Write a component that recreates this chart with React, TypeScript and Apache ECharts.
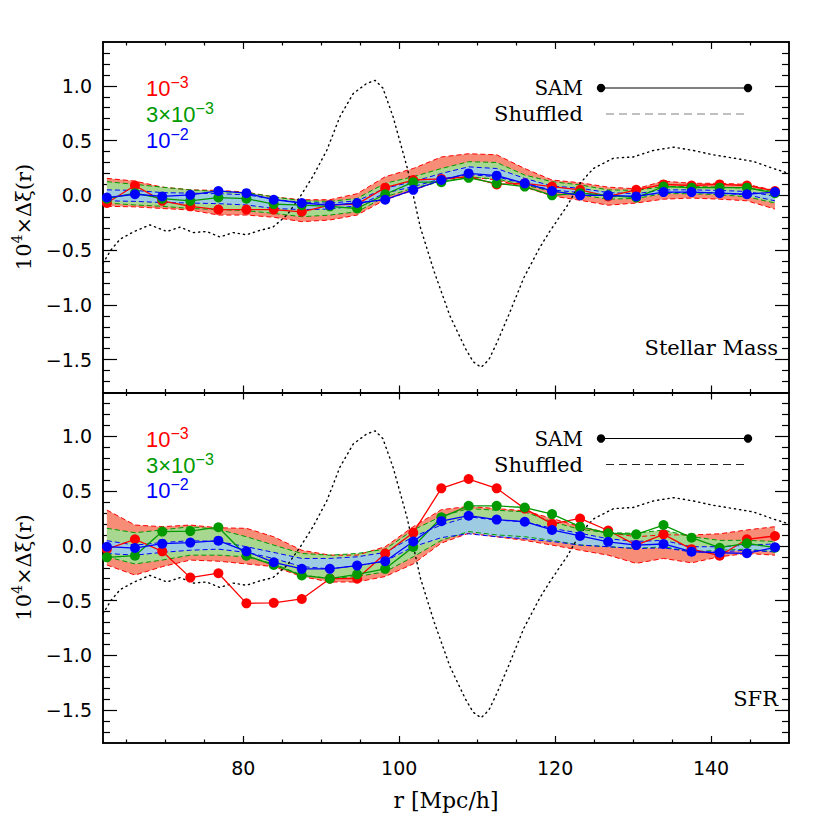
import React, { useEffect, useRef } from 'react';
import * as echarts from 'echarts';

// ---------- data ----------
const R_VALUES = [62.5, 66.1, 69.6, 73.2, 76.8, 80.4, 83.9, 87.5, 91.1, 94.6, 98.2, 101.8, 105.4, 108.9, 112.5, 116.1, 119.6, 123.2, 126.8, 130.4, 133.9, 137.5, 141.1, 144.6, 148.2];

// Stellar Mass panel: SAM points
const SM_RED = [-0.07, 0.09, -0.05, -0.10, -0.13, -0.13, -0.13, -0.15, -0.09, -0.08, 0.07, 0.14, 0.15, 0.17, 0.10, 0.11, 0.08, 0.05, -0.01, 0.05, 0.10, 0.09, 0.10, 0.09, 0.04];
const SM_GREEN = [-0.03, 0.02, -0.03, -0.05, -0.02, -0.03, -0.08, -0.09, -0.10, -0.12, 0.01, 0.12, 0.12, 0.16, 0.11, 0.08, 0.0, 0.02, 0.0, -0.02, 0.08, 0.07, 0.07, 0.07, 0.02];
const SM_BLUE = [-0.02, 0.01, -0.01, 0.005, 0.04, 0.02, -0.04, -0.07, -0.09, -0.07, -0.04, 0.05, 0.14, 0.20, 0.18, 0.11, 0.04, 0.0, 0.0, -0.01, 0.03, 0.03, 0.02, 0.01, 0.03];
// Stellar Mass panel: shuffled bands
const SM_RED_HI = [0.155, 0.13, 0.075, 0.05, 0.045, 0.03, -0.015, -0.04, -0.04, 0.015, 0.17, 0.245, 0.35, 0.38, 0.37, 0.245, 0.14, 0.115, 0.075, 0.06, 0.13, 0.11, 0.11, 0.10, 0.045];
const SM_RED_LO = [-0.10, -0.105, -0.12, -0.134, -0.18, -0.18, -0.20, -0.24, -0.225, -0.18, -0.04, 0.045, 0.14, 0.17, 0.14, 0.075, -0.005, -0.045, -0.09, -0.07, -0.035, -0.025, -0.035, -0.05, -0.125];
const SM_GREEN_HI = [0.125, 0.10, 0.075, 0.05, 0.035, 0.025, -0.013, -0.05, -0.055, -0.028, 0.11, 0.17, 0.245, 0.307, 0.30, 0.185, 0.125, 0.095, 0.05, 0.045, 0.08, 0.08, 0.075, 0.065, 0.035];
const SM_GREEN_LO = [-0.07, -0.088, -0.10, -0.12, -0.13, -0.14, -0.165, -0.195, -0.18, -0.15, -0.013, 0.065, 0.125, 0.165, 0.15, 0.095, 0.035, 0.005, -0.035, -0.028, 0.015, 0.015, 0.005, -0.013, -0.07];
const SM_BLUE_HI = [0.05, 0.045, 0.025, 0.02, 0.015, 0.005, -0.035, -0.066, -0.07, -0.05, 0.065, 0.125, 0.20, 0.26, 0.245, 0.155, 0.085, 0.065, 0.025, 0.015, 0.05, 0.05, 0.045, 0.035, -0.008];
const SM_BLUE_LO = [-0.05, -0.055, -0.066, -0.07, -0.076, -0.088, -0.12, -0.13, -0.125, -0.095, 0.02, 0.08, 0.15, 0.19, 0.17, 0.104, 0.05, 0.025, -0.013, -0.008, 0.025, 0.025, 0.02, 0.005, -0.05];

// SFR panel: SAM points
const SFR_RED = [-0.03, 0.06, -0.05, -0.29, -0.25, -0.525, -0.52, -0.485, -0.30, -0.30, -0.07, 0.12, 0.525, 0.61, 0.525, 0.34, 0.20, 0.25, 0.14, 0.007, 0.105, -0.03, -0.09, 0.06, 0.09];
const SFR_GREEN = [-0.105, -0.09, 0.13, 0.135, 0.17, -0.09, -0.175, -0.27, -0.30, -0.26, -0.21, -0.01, 0.26, 0.365, 0.365, 0.35, 0.29, 0.175, 0.115, 0.105, 0.19, 0.075, -0.017, 0.023, -0.017];
const SFR_BLUE = [-0.008, -0.02, 0.02, 0.03, 0.047, -0.05, -0.15, -0.21, -0.21, -0.18, -0.14, 0.04, 0.225, 0.275, 0.24, 0.22, 0.145, 0.09, 0.037, 0.007, 0.017, -0.053, -0.063, -0.068, -0.013];
// SFR panel: shuffled bands
const SFR_RED_HI = [0.327, 0.19, 0.175, 0.19, 0.165, 0.16, 0.083, -0.04, -0.085, -0.085, -0.008, 0.175, 0.33, 0.36, 0.34, 0.32, 0.25, 0.175, 0.12, 0.083, 0.10, 0.10, 0.11, 0.145, 0.175];
const SFR_RED_LO = [-0.175, -0.267, -0.19, -0.13, -0.14, -0.165, -0.19, -0.28, -0.33, -0.33, -0.28, -0.165, 0.025, 0.115, 0.083, 0.05, 0.007, -0.04, -0.085, -0.16, -0.115, -0.155, -0.10, -0.07, -0.085];
const SFR_GREEN_HI = [0.16, 0.12, 0.145, 0.175, 0.15, 0.083, 0.007, -0.07, -0.085, -0.07, -0.03, 0.145, 0.27, 0.34, 0.325, 0.31, 0.22, 0.15, 0.12, 0.115, 0.145, 0.083, 0.05, 0.05, 0.04];
const SFR_GREEN_LO = [-0.10, -0.165, -0.13, -0.085, -0.085, -0.10, -0.165, -0.267, -0.297, -0.28, -0.237, -0.10, 0.05, 0.13, 0.10, 0.083, 0.05, 0.007, -0.008, -0.025, -0.008, -0.055, -0.04, -0.03, -0.055];
const SFR_BLUE_HI = [0.047, 0.007, 0.03, 0.047, 0.04, -0.008, -0.06, -0.115, -0.115, -0.10, -0.06, 0.083, 0.19, 0.265, 0.235, 0.22, 0.16, 0.115, 0.065, 0.04, 0.05, -0.008, -0.008, 0.007, 0.017];
const SFR_BLUE_LO = [-0.07, -0.085, -0.06, -0.04, -0.03, -0.06, -0.115, -0.19, -0.21, -0.18, -0.14, -0.008, 0.075, 0.11, 0.083, 0.065, 0.04, 0.007, -0.008, -0.025, -0.018, -0.055, -0.055, -0.04, -0.055];

// dotted reference curve (same in both panels)
const DOT_R = [62, 63, 64.2, 66, 68, 70.2, 71.9, 73.6, 75.3, 77.0, 78.7, 80.4, 82.1, 83.8, 85.6, 87.3, 88.9, 90.7, 92.4, 94.1, 95.8, 96.9, 97.9, 99.2, 101.0, 102.7, 104.5, 106.5, 108.5, 109.5, 110.5, 111.5, 112.5, 114, 116, 118, 119.3, 121.5, 123.2, 124.9, 127.5, 130.0, 132.6, 135.2, 137.7, 140.3, 142.9, 145.4, 148.0, 150];
const DOT_V = [-0.62, -0.5, -0.40, -0.33, -0.27, -0.33, -0.29, -0.34, -0.33, -0.38, -0.34, -0.36, -0.32, -0.29, -0.18, -0.01, 0.17, 0.41, 0.72, 0.93, 1.02, 1.05, 0.98, 0.72, 0.26, -0.29, -0.7, -1.1, -1.4, -1.52, -1.57, -1.5, -1.35, -1.1, -0.75, -0.48, -0.33, -0.10, 0.11, 0.245, 0.34, 0.35, 0.41, 0.44, 0.41, 0.37, 0.34, 0.31, 0.245, 0.20];

// axes
const X_MIN = 62;
const X_MAX = 150;
const Y_MIN = -1.8;
const Y_MAX = 1.4;
const X_MAJOR = [80, 100, 120, 140];
const X_MINOR = [65, 70, 75, 85, 90, 95, 105, 110, 115, 125, 130, 135, 145];
const Y_MAJOR = [-1.5, -1.0, -0.5, 0.0, 0.5, 1.0];
const Y_MINOR = [-1.7, -1.6, -1.4, -1.3, -1.2, -1.1, -0.9, -0.8, -0.7, -0.6, -0.4, -0.3, -0.2, -0.1, 0.1, 0.2, 0.3, 0.4, 0.6, 0.7, 0.8, 0.9, 1.1, 1.2, 1.3];

const PANEL_TITLES = ['Stellar Mass', 'SFR'];
const DENSITY_LABELS = [['10', '−3'], ['3×10', '−3'], ['10', '−2']];

// ---------- styling ----------
const RED = '#ff0000';
const GREEN = '#009a00';
const BLUE = '#0000ff';
const RED_FILL = '#f88d77';
const GREEN_FILL = '#a8d890';
const BLUE_FILL = '#9ccbe2';
const SANS = 'Liberation Sans';
const TICK_FONT = 'DejaVu Sans';
const SERIF = 'DejaVu Serif';

const GRID_LEFT = 103;
const GRID_W = 686;
const GRID_TOP = 42;
const GRID_H = 350.5;

const fmtY = (v: number) => (v < 0 ? '−' + Math.abs(v).toFixed(1) : v.toFixed(1));

function makeXAxes(g: number, labels: boolean) {
  const base = {
    type: 'value', gridIndex: g, min: X_MIN, max: X_MAX,
    splitLine: { show: false },
    axisLine: { show: true, onZero: false, lineStyle: { color: '#000', width: 1.5 } },
  };
  const tick = (vals: number[], len: number) => ({
    show: true, inside: true, length: len, customValues: vals,
    lineStyle: { color: '#000', width: 1.2 },
  });
  return [
    {
      ...base, position: 'bottom', axisTick: tick(X_MAJOR, 7),
      axisLabel: labels
        ? { show: true, customValues: X_MAJOR, color: '#000', fontSize: 19, fontFamily: TICK_FONT, margin: 15 }
        : { show: false },
    },
    { ...base, position: 'bottom', axisTick: tick(X_MINOR, 3.5), axisLabel: { show: false } },
    { ...base, position: 'top', axisTick: tick(X_MAJOR, 7), axisLabel: { show: false } },
    { ...base, position: 'top', axisTick: tick(X_MINOR, 3.5), axisLabel: { show: false } },
  ];
}

function makeYAxes(g: number) {
  const base = {
    type: 'value', gridIndex: g, min: Y_MIN, max: Y_MAX,
    splitLine: { show: false },
    axisLine: { show: true, onZero: false, lineStyle: { color: '#000', width: 1.5 } },
  };
  const tick = (vals: number[], len: number) => ({
    show: true, inside: true, length: len, customValues: vals,
    lineStyle: { color: '#000', width: 1.2 },
  });
  return [
    {
      ...base, position: 'left', axisTick: tick(Y_MAJOR, 14),
      axisLabel: { show: true, customValues: Y_MAJOR, formatter: fmtY, color: '#000', fontSize: 19, fontFamily: TICK_FONT, margin: 11 },
    },
    { ...base, position: 'left', axisTick: tick(Y_MINOR, 7), axisLabel: { show: false } },
    { ...base, position: 'right', axisTick: tick(Y_MAJOR, 14), axisLabel: { show: false } },
    { ...base, position: 'right', axisTick: tick(Y_MINOR, 7), axisLabel: { show: false } },
  ];
}

function bandSeries(g: number, lo: number[], hi: number[], color: string) {
  return {
    type: 'custom', xAxisIndex: 4 * g, yAxisIndex: 4 * g, silent: true, clip: true,
    data: [[R_VALUES[0], lo[0]]],
    encode: { x: 0, y: 1 },
    renderItem: (_p: any, api: any) => {
      const pts: number[][] = [];
      for (let i = 0; i < R_VALUES.length; i++) pts.push(api.coord([R_VALUES[i], hi[i]]));
      for (let i = R_VALUES.length - 1; i >= 0; i--) pts.push(api.coord([R_VALUES[i], lo[i]]));
      return { type: 'polygon', shape: { points: pts }, style: { fill: color, stroke: null } };
    },
  };
}

function lineSeries(g: number, xs: number[], ys: number[], lineStyle: any, marker: boolean, color: string) {
  return {
    type: 'line', xAxisIndex: 4 * g, yAxisIndex: 4 * g, silent: true,
    data: xs.map((x, i) => [x, ys[i]]),
    symbol: marker ? 'circle' : 'none', symbolSize: 10, showSymbol: marker,
    itemStyle: { color },
    lineStyle: { color, ...lineStyle },
    clip: true,
  };
}

function panelSeries(g: number, d: any) {
  const dash = { width: 1, type: [5, 3] };
  return [
    bandSeries(g, d.rlo, d.rhi, RED_FILL),
    bandSeries(g, d.glo, d.ghi, GREEN_FILL),
    bandSeries(g, d.blo, d.bhi, BLUE_FILL),
    lineSeries(g, R_VALUES, d.rhi, dash, false, RED),
    lineSeries(g, R_VALUES, d.rlo, dash, false, RED),
    lineSeries(g, R_VALUES, d.ghi, dash, false, GREEN),
    lineSeries(g, R_VALUES, d.glo, dash, false, GREEN),
    lineSeries(g, R_VALUES, d.bhi, dash, false, BLUE),
    lineSeries(g, R_VALUES, d.blo, dash, false, BLUE),
    lineSeries(g, DOT_R, DOT_V, { width: 1.4, type: [1.2, 4], cap: 'round' }, false, '#000'),
    lineSeries(g, R_VALUES, d.red, { width: 1.3 }, true, RED),
    lineSeries(g, R_VALUES, d.green, { width: 1.3 }, true, GREEN),
    lineSeries(g, R_VALUES, d.blue, { width: 1.3 }, true, BLUE),
  ];
}

function panelGraphics(g: number, shuffledColor: string) {
  const off = g * GRID_H;
  const colors = [RED, GREEN, BLUE];
  const rows = [87, 113, 138.5];
  const els: any[] = [];
  DENSITY_LABELS.forEach((lab, i) => {
    els.push({
      type: 'text', x: 146, y: rows[i] + off, silent: true,
      style: {
        text: `{b|${lab[0]}}{s|${lab[1]}}`, align: 'left', verticalAlign: 'middle', fill: colors[i],
        rich: {
          b: { fontSize: 22, lineHeight: 25, verticalAlign: 'bottom', fontFamily: SANS, fill: colors[i] },
          s: { fontSize: 16, lineHeight: 16, verticalAlign: 'top', fontFamily: SANS, fill: colors[i] },
        },
      },
    });
  });
  els.push({ type: 'text', x: 583, y: 88 + off, silent: true, style: { text: 'SAM', align: 'right', verticalAlign: 'middle', fontSize: 20, fontFamily: SERIF, fill: '#000' } });
  els.push({ type: 'text', x: 583, y: 114 + off, silent: true, style: { text: 'Shuffled', align: 'right', verticalAlign: 'middle', fontSize: 21, fontFamily: SERIF, fill: '#000' } });
  els.push({ type: 'line', silent: true, shape: { x1: 601, y1: 88 + off, x2: 748, y2: 88 + off }, style: { stroke: '#000', lineWidth: 1 } });
  els.push({ type: 'circle', silent: true, shape: { cx: 601, cy: 88 + off, r: 4.2 }, style: { fill: '#000' } });
  els.push({ type: 'circle', silent: true, shape: { cx: 748, cy: 88 + off, r: 4.2 }, style: { fill: '#000' } });
  els.push({ type: 'line', silent: true, shape: { x1: 606, y1: 114 + off, x2: 748, y2: 114 + off }, style: { stroke: shuffledColor, lineWidth: 1, lineDash: [8, 5] } });
  els.push({ type: 'text', x: 778, y: 348 + off, silent: true, style: { text: PANEL_TITLES[g], align: 'right', verticalAlign: 'middle', fontSize: 21, fontFamily: SERIF, fill: '#000' } });
  els.push({
    type: 'text', x: 22, y: 217 + off, rotation: Math.PI / 2, silent: true,
    style: {
      text: '{b|10}{s|4}{b|×Δξ(r)}', align: 'center', verticalAlign: 'middle', fill: '#000',
      rich: {
        b: { fontSize: 21, lineHeight: 24, verticalAlign: 'bottom', fontFamily: SERIF, fill: '#000' },
        s: { fontSize: 14, lineHeight: 14, verticalAlign: 'top', fontFamily: SERIF, fill: '#000' },
      },
    },
  });
  return els;
}

export default function App() {
  const ref = useRef<HTMLDivElement>(null);
  useEffect(() => {
    if (!ref.current) return;
    const chart = echarts.init(ref.current, null, { renderer: 'svg' });
    const sm = { red: SM_RED, green: SM_GREEN, blue: SM_BLUE, rhi: SM_RED_HI, rlo: SM_RED_LO, ghi: SM_GREEN_HI, glo: SM_GREEN_LO, bhi: SM_BLUE_HI, blo: SM_BLUE_LO };
    const sfr = { red: SFR_RED, green: SFR_GREEN, blue: SFR_BLUE, rhi: SFR_RED_HI, rlo: SFR_RED_LO, ghi: SFR_GREEN_HI, glo: SFR_GREEN_LO, bhi: SFR_BLUE_HI, blo: SFR_BLUE_LO };
    chart.setOption({
      animation: false,
      backgroundColor: '#fff',
      grid: [
        { left: GRID_LEFT, top: GRID_TOP, width: GRID_W, height: GRID_H },
        { left: GRID_LEFT, top: GRID_TOP + GRID_H, width: GRID_W, height: GRID_H },
      ],
      xAxis: [...makeXAxes(0, false), ...makeXAxes(1, true)],
      yAxis: [...makeYAxes(0), ...makeYAxes(1)],
      series: [...panelSeries(0, sm), ...panelSeries(1, sfr)],
      graphic: [
        ...panelGraphics(0, '#808080'),
        ...panelGraphics(1, '#222'),
        { type: 'text', x: 446, y: 800, silent: true, style: { text: 'r [Mpc/h]', align: 'center', verticalAlign: 'middle', fontSize: 22, fontFamily: SERIF, fill: '#000' } },
      ],
    });
    return () => chart.dispose();
  }, []);
  return <div ref={ref} style={{ position: 'absolute', left: 0, top: 0, width: 830, height: 830, background: '#fff' }} />;
}
